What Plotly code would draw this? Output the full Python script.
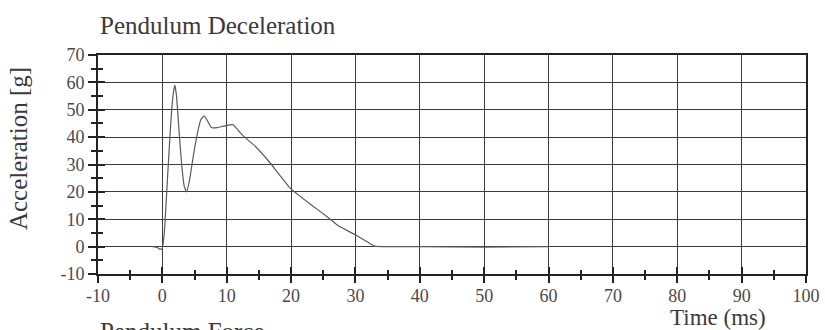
import plotly.graph_objects as go

# Data
time_ms = [-1.5, -0.8, -0.3, 0.0, 0.3, 0.8, 1.3, 1.7, 1.95, 2.2, 2.6, 3.0, 3.4, 3.75,
           4.2, 4.8, 5.5, 6.0, 6.5, 7.0, 7.6, 8.5, 9.5, 10.5, 11.0, 12.4, 14.5, 16.6,
           19.9, 23.0, 25.9, 27.4, 30.0, 32.0, 33.0, 40.0, 50.0, 60.0]
accel_g = [0.0, -0.3, -1.0, -0.4, 5.0, 25.0, 45.0, 56.0, 59.0, 55.0, 42.0, 30.0, 22.0, 20.0,
           24.0, 33.0, 42.0, 46.5, 47.8, 46.0, 43.5, 43.5, 44.0, 44.5, 44.5, 40.8, 36.5, 31.0,
           21.3, 15.5, 10.4, 7.5, 4.3, 1.5, 0.2, 0.0, -0.2, 0.0]

x_ticks = [-10, 0, 10, 20, 30, 40, 50, 60, 70, 80, 90, 100]
x_labels = ["-10", "0", "10", "20", "30", "40", "50", "60", "70", "80", "90", "100"]
y_ticks = [-10, 0, 10, 20, 30, 40, 50, 60, 70]
y_labels = ["-10", "0", "10", "20", "30", "40", "50", "60", "70"]

FONT = "Liberation Serif, Times New Roman, serif"
GRID = "#3c3c3c"
TXT = "#4a4a4a"
AX = "#222"

fig = go.Figure()
fig.add_trace(go.Scatter(x=time_ms, y=accel_g, mode="lines",
                         line=dict(color="#5a5a5a", width=1.2, shape="spline", smoothing=0.4),
                         showlegend=False, hoverinfo="skip"))
fig.add_trace(go.Scatter(x=[None], y=[None], xaxis="x2", yaxis="y2", showlegend=False))

fig.update_layout(
    width=825, height=330,
    margin=dict(l=98, r=19, t=55, b=56, autoexpand=False),
    paper_bgcolor="white", plot_bgcolor="white",
    font=dict(family=FONT, color=TXT, size=18),
    xaxis=dict(range=[-10, 100], tickvals=x_ticks, ticktext=x_labels, automargin=False,
               showgrid=True, gridcolor=GRID, gridwidth=1.4, ticklabelstandoff=-3,
               zeroline=False, showline=True, linecolor=AX, linewidth=2, mirror=True,
               ticks="outside", ticklen=7, tickwidth=2, tickcolor=AX,
               minor=dict(dtick=5, tick0=0, ticks="outside", ticklen=4, tickwidth=2, tickcolor=AX, showgrid=False),
               tickfont=dict(family=FONT, size=18, color=TXT)),
    xaxis2=dict(range=[-10, 100], tickvals=x_ticks, overlaying="x", anchor="y", side="bottom",
                automargin=False, showgrid=False, zeroline=False, showticklabels=False,
                ticks="inside", ticklen=7, tickwidth=2, tickcolor=AX,
                minor=dict(dtick=5, tick0=0, ticks="inside", ticklen=4, tickwidth=2, tickcolor=AX, showgrid=False)),
    yaxis=dict(range=[-10, 70], tickvals=y_ticks, ticktext=y_labels, automargin=False,
               showgrid=True, gridcolor=GRID, gridwidth=1.4,
               zeroline=False, showline=True, linecolor=AX, linewidth=2, mirror=True,
               ticks="outside", ticklen=8, tickwidth=2, tickcolor=AX,
               minor=dict(dtick=5, tick0=0, ticks="outside", ticklen=5, tickwidth=2, tickcolor=AX, showgrid=False),
               tickfont=dict(family=FONT, size=18, color=TXT)),
    yaxis2=dict(range=[-10, 70], tickvals=y_ticks, overlaying="y", anchor="x", side="left",
                automargin=False, showgrid=False, zeroline=False, showticklabels=False,
                ticks="inside", ticklen=7, tickwidth=2, tickcolor=AX,
                minor=dict(dtick=5, tick0=0, ticks="inside", ticklen=5, tickwidth=2, tickcolor=AX, showgrid=False)),
    annotations=[
        dict(text="Pendulum Deceleration", xref="paper", yref="paper", x=0.0, y=1.065,
             xanchor="left", yanchor="bottom", showarrow=False,
             font=dict(family=FONT, size=25, color="#3a3a3a")),
        dict(text="Acceleration [g]", xref="paper", yref="paper", x=-0.113, y=0.575,
             xanchor="center", yanchor="middle", textangle=-90, showarrow=False,
             font=dict(family=FONT, size=25, color="#3a3a3a")),
        dict(text="Time (ms)", xref="paper", yref="paper", x=0.876, y=-0.2,
             xanchor="center", yanchor="middle", showarrow=False,
             font=dict(family=FONT, size=23, color="#3a3a3a")),
        dict(text="Pendulum Force", xref="paper", yref="paper", x=0.0, y=-0.19,
             xanchor="left", yanchor="top", showarrow=False,
             font=dict(family=FONT, size=25, color="#3a3a3a")),
    ],
)

fig.write_html("out.html", config={"displayModeBar": False},
               post_script="document.body.style.margin='0';document.body.style.padding='0';")
